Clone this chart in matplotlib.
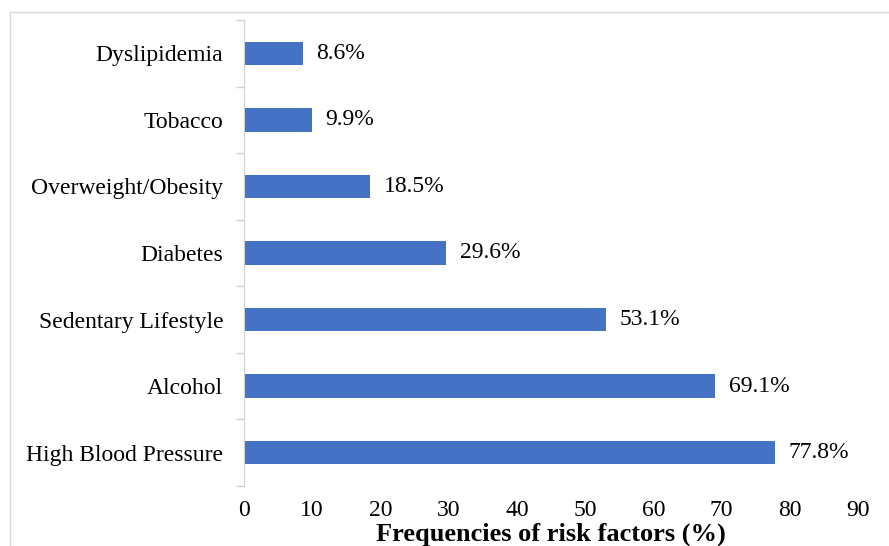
import numpy as np
import matplotlib.pyplot as plt
from matplotlib.lines import Line2D

categories = ["High Blood Pressure", "Alcohol", "Sedentary Lifestyle", "Diabetes",
              "Overweight/Obesity", "Tobacco", "Dyslipidemia"]
values = [77.8, 69.1, 53.1, 29.6, 18.5, 9.9, 8.6]
xticks = [0, 10, 20, 30, 40, 50, 60, 70, 80, 90]

plt.rcParams["font.family"] = ["Liberation Serif", "DejaVu Serif"]

fig = plt.figure(figsize=(8.89, 5.46), dpi=100)
ax = fig.add_axes([244 / 889, 1 - 486 / 546, (858 - 244) / 889, (486 - 20) / 546])

y = np.arange(len(categories))
ax.barh(y, values, height=0.35, color="#4472C4")
for yi, v in zip(y, values):
    ax.text(v + 2.0, yi, f"{v:.1f}%", va="center", ha="left", fontsize=17)

ax.set_xlim(0, 90)
ax.set_ylim(-0.5, len(categories) - 0.5)
ax.set_xticks(xticks)
ax.set_xticklabels([str(t) for t in xticks], fontsize=17)
ax.set_yticks(y)
ax.set_yticklabels(categories, fontsize=17)
ax.set_yticks(np.arange(len(categories) + 1) - 0.5, minor=True)
ax.tick_params(axis="y", which="major", length=0, pad=15)
ax.tick_params(axis="y", which="minor", length=6, color="#d0d0d0", width=1)
ax.tick_params(axis="x", length=0, pad=10)
ax.set_xlabel("Frequencies of risk factors (%)", fontsize=19, fontweight="bold", labelpad=1)

for side in ["top", "right", "bottom"]:
    ax.spines[side].set_visible(False)
ax.spines["left"].set_color("#d0d0d0")

# thin frame along the top and left of the figure
fig.add_artist(Line2D([10 / 889, 1], [1 - 12 / 546, 1 - 12 / 546], color="#d9d9d9", lw=1,
                      transform=fig.transFigure))
fig.add_artist(Line2D([10 / 889, 10 / 889], [0, 1 - 12 / 546], color="#d9d9d9", lw=1,
                      transform=fig.transFigure))

fig.savefig("out.png", dpi=100)
